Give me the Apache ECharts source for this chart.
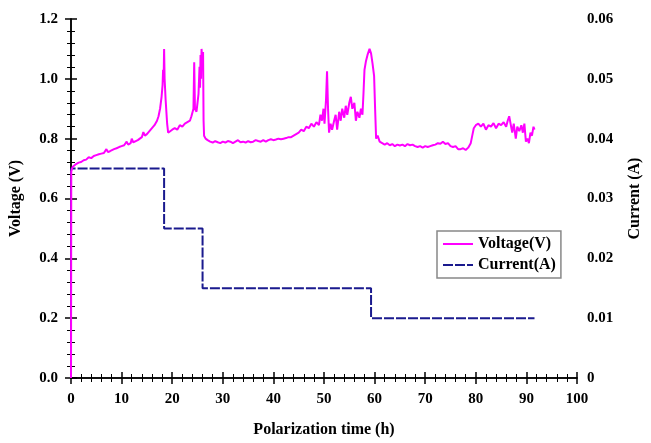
<!DOCTYPE html>
<html>
<head>
<meta charset="utf-8">
<script src="https://cdn.jsdelivr.net/npm/echarts@6/dist/echarts.min.js"></script>
<style>html,body{margin:0;padding:0;background:#fff}#c{width:651px;height:443px}</style>
</head>
<body>
<div id="c"></div>
<script>
// Polarization time (h) and voltage (V)
const voltTime = [0,0.05,0.3,0.6,1,1.5,2,2.5,3,3.5,4,4.5,5,5.5,6,6.5,7,7.3,7.7,8,8.5,9,9.5,10,10.5,11,11.3,11.8,12,12.3,12.8,13.2,13.6,14,14.3,14.6,15,15.5,16,16.5,17,17.3,17.6,17.9,18.1,18.2,18.3,18.4,18.5,18.7,19,19.2,19.5,20,20.5,21,21.5,22,22.5,23,23.5,23.8,24,24.2,24.35,24.5,24.8,25,25.2,25.4,25.5,25.6,25.7,25.8,25.95,26.1,26.2,26.3,26.6,27,27.5,28,28.5,29,29.5,30,30.5,31,31.5,32,32.5,33,33.5,34,34.5,35,35.5,36,36.5,37,37.5,38,38.5,39,39.5,40,40.5,41,41.5,42,42.5,43,43.5,44,44.5,45,45.5,46,46.5,47,47.5,48,48.5,49,49.3,49.6,49.9,50.1,50.4,50.6,50.8,51,51.3,51.6,52,52.3,52.6,53,53.3,53.6,54,54.3,54.6,55,55.3,55.6,56,56.3,56.6,57,57.3,57.6,57.8,58,58.3,58.6,59,59.3,59.6,59.9,60.1,60.3,60.6,61,61.5,62,62.5,63,63.5,64,64.5,65,65.5,66,66.5,67,67.5,68,68.5,69,69.5,70,70.5,71,71.5,72,72.5,73,73.5,74,74.5,75,75.5,76,76.5,77,77.5,78,78.5,79,79.3,79.6,80,80.5,81,81.5,82,82.5,83,83.5,84,84.5,85,85.5,86,86.3,86.6,86.9,87.2,87.5,87.9,88.2,88.6,89,89.3,89.6,89.9,90.2,90.5,90.8,91.1,91.4,91.6];
const voltValues = [0,0.69,0.705,0.71,0.715,0.72,0.722,0.728,0.73,0.738,0.735,0.742,0.745,0.748,0.75,0.752,0.765,0.755,0.758,0.762,0.765,0.768,0.772,0.775,0.778,0.79,0.78,0.785,0.8,0.788,0.792,0.795,0.8,0.805,0.822,0.81,0.815,0.825,0.835,0.845,0.86,0.875,0.9,0.94,0.98,1.03,0.99,1.1,1.0,0.93,0.85,0.82,0.825,0.83,0.835,0.83,0.845,0.84,0.85,0.855,0.86,0.875,0.88,0.9,1.055,0.9,0.89,0.92,0.95,1.04,0.97,1.08,1.0,1.1,1.06,1.09,0.86,0.81,0.8,0.795,0.79,0.787,0.792,0.788,0.785,0.79,0.787,0.792,0.79,0.785,0.79,0.795,0.788,0.79,0.787,0.792,0.788,0.79,0.795,0.792,0.79,0.795,0.79,0.795,0.798,0.795,0.797,0.8,0.798,0.8,0.802,0.805,0.805,0.81,0.815,0.82,0.83,0.825,0.84,0.835,0.85,0.84,0.855,0.845,0.88,0.86,0.9,0.85,0.93,1.025,0.9,0.82,0.85,0.83,0.86,0.88,0.83,0.89,0.86,0.9,0.87,0.91,0.88,0.92,0.94,0.9,0.92,0.86,0.89,0.87,0.9,0.88,0.95,1.03,1.06,1.08,1.1,1.085,1.05,1.01,0.9,0.8,0.81,0.79,0.785,0.78,0.785,0.778,0.782,0.775,0.78,0.777,0.78,0.775,0.782,0.778,0.78,0.775,0.772,0.775,0.77,0.775,0.772,0.775,0.778,0.78,0.785,0.783,0.79,0.782,0.785,0.775,0.772,0.775,0.765,0.765,0.768,0.762,0.77,0.785,0.81,0.835,0.845,0.85,0.84,0.85,0.83,0.845,0.84,0.852,0.835,0.85,0.845,0.855,0.84,0.86,0.875,0.88,0.82,0.85,0.8,0.84,0.825,0.845,0.82,0.85,0.79,0.8,0.785,0.82,0.81,0.84,0.83];
// Current (A) step profile
const currTime = [0,0,18.4,18.4,26,26,59.3,59.3,91.6];
const currValues = [0,0.035,0.035,0.025,0.025,0.015,0.015,0.01,0.01];
const xTicks = [0,10,20,30,40,50,60,70,80,90,100];
const vTicks = [0,0.2,0.4,0.6,0.8,1.0,1.2];
const aTicks = [0,0.01,0.02,0.03,0.04,0.05,0.06];

const voltData = voltTime.map((t,i)=>[t,voltValues[i]]);
const currData = currTime.map((t,i)=>[t,currValues[i]]);
const font = 'Liberation Serif';
const lab = {color:'#000',fontFamily:font,fontWeight:'bold',fontSize:15};
const axLine = {show:true,lineStyle:{color:'#000',width:1.5}};
const tick = {show:true,inside:true,length:6,lineStyle:{color:'#000',width:1.5}};
const minor = {show:true,splitNumber:5,length:4,lineStyle:{color:'#000',width:1}};
const nameStyle = {color:'#000',fontFamily:font,fontWeight:'bold',fontSize:16};

const chart = echarts.init(document.getElementById('c'),null,{renderer:'canvas'});
chart.setOption({
  animation:false,
  backgroundColor:'#fff',
  grid:{left:67,right:61,top:19,bottom:55,containLabel:false},
  legend:{
    left:437,top:231,orient:'vertical',itemWidth:30,itemHeight:10,itemGap:5,
    padding:[5,5,5,5],borderColor:'#888',borderWidth:1.5,backgroundColor:'#fff',
    itemStyle:{opacity:0},
    textStyle:{color:'#000',fontFamily:font,fontWeight:'bold',fontSize:16},
    data:['Voltage(V)','Current(A)']
  },
  xAxis:[{
    type:'value',min:0,max:100,interval:10,position:'bottom',
    name:'Polarization time (h)',nameLocation:'middle',nameGap:44,
    nameTextStyle:nameStyle,
    axisLine:axLine,axisTick:tick,minorTick:minor,splitLine:{show:false},
    axisLabel:Object.assign({margin:14,formatter:v=>xTicks.includes(v)?String(v):''},lab)
  },{
    type:'value',min:0,max:100,interval:10,position:'top',
    axisLine:axLine,axisTick:tick,minorTick:minor,splitLine:{show:false},
    axisLabel:{show:false}
  }],
  yAxis:[{
    type:'value',min:0,max:1.2,interval:0.2,position:'left',
    name:'Voltage (V)',nameLocation:'middle',nameGap:47,nameRotate:90,
    nameTextStyle:nameStyle,
    axisLine:axLine,axisTick:tick,minorTick:minor,splitLine:{show:false},
    axisLabel:Object.assign({margin:13,formatter:v=>vTicks.some(t=>Math.abs(t-v)<1e-9)?v.toFixed(1):''},lab)
  },{
    type:'value',min:0,max:0.06,interval:0.01,position:'right',
    name:'Current (A)',nameLocation:'middle',nameGap:50,nameRotate:90,
    nameTextStyle:nameStyle,
    axisLine:axLine,axisTick:tick,minorTick:minor,splitLine:{show:false},
    axisLabel:Object.assign({margin:10,formatter:v=>{const t=aTicks.find(a=>Math.abs(a-v)<1e-9);return t===undefined?'':(t===0?'0':t.toFixed(2));}},lab)
  }],
  series:[{
    name:'Voltage(V)',type:'line',xAxisIndex:0,yAxisIndex:0,data:voltData,
    showSymbol:false,symbol:'none',
    lineStyle:{color:'#ff00ff',width:2},itemStyle:{color:'#ff00ff'},z:3
  },{
    name:'Current(A)',type:'line',xAxisIndex:0,yAxisIndex:1,data:currData,
    showSymbol:false,symbol:'none',
    lineStyle:{color:'#1a1a8e',width:2,type:[10,2]},itemStyle:{color:'#1a1a8e'},z:2
  }]
});
</script>
</body>
</html>
